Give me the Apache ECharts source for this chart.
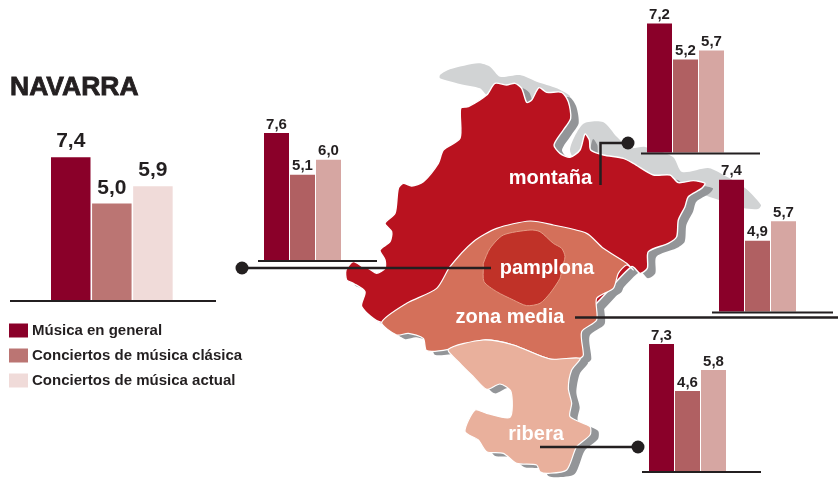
<!DOCTYPE html>
<html><head><meta charset="utf-8">
<style>html,body{margin:0;padding:0;background:#fff}#c{width:838px;height:479px}</style>
<script src="https://cdn.jsdelivr.net/npm/echarts@6/dist/echarts.min.js"></script>
</head><body><div id="c"></div>
<script>
// ---- data ----
const seriesNames = ['Música en general','Conciertos de música clásica','Conciertos de música actual'];
const navarra  = [7.4,5.0,5.9];
const montana  = [7.2,5.2,5.7];
const pamplona = [7.6,5.1,6.0];
const zonaMedia= [7.4,4.9,5.7];
const ribera   = [7.3,4.6,5.8];
const regionLabels = ['montaña','pamplona','zona media','ribera'];

// ---- layout ----
const INK='#231f20';
const strong=['#8a0029','#bb7573','#f0dbd9'];
const soft=['#8a0029','#b06062','#d6a6a2'];
const panels=[
 {name:'NAVARRA',values:navarra,left:51,bar:39.5,gap:'4%',base:300,unit:19.3,min:0,colors:strong,font:21,dist:5,line:[10,216]},
 {name:'montaña',values:montana,left:647,bar:25,gap:'4%',base:152.5,unit:17.9,min:0,colors:soft,font:15,dist:1,line:[641,760]},
 {name:'pamplona',values:pamplona,left:264,bar:25,gap:'4%',base:260,unit:16.7,min:0,colors:soft,font:15,dist:1,line:[258,377]},
 {name:'zona media',values:zonaMedia,left:719,bar:25,gap:'4%',base:311.5,unit:24.4,min:2,colors:soft,font:15,dist:1,line:[712,833]},
 {name:'ribera',values:ribera,left:649,bar:25,gap:'4%',base:471,unit:17.4,min:0,colors:soft,font:15,dist:1,line:[642,761]}
];
const MAX=8;
const A=p=>p.map(([x,y])=>[340+x/3,60+y/3]);
const B=p=>p.map(([x,y])=>[340+x/3,260+y/3]);

// ---- map artwork (illustration, not data) ----
const greyTop=A([[300,45],[330,28],[415,10],[450,20],[480,50],[540,45],[590,65],[650,85],[690,110],[600,130],[480,120],[440,105],[420,85],[360,72],[300,55]]);
const greyMid=[[570,150],[583,124],[603,122],[617,137],[630,148],[645,147],[673,157],[682,172],[708,168],[720,173],[745,188],[761,205],[758,209],[743,208],[713,198],[690,190],[620,175],[580,165]];
const redOutline=A([[465,70],[500,75],[525,70],[545,85],[560,127],[575,120],[597,83],[620,97],[665,97],[685,125],[692,175],[670,210],[642,255],[660,280],[690,292],[720,270],[735,222],[748,240],[752,270],[790,285],[850,295],[880,310],[940,345],[990,345],[1015,368],[1060,362],[1095,370],[1085,385],[1045,410],[1035,440],[1015,480],[1010,530],[985,550],[925,575],[922,625]])
 .concat(B([[900,40],[875,20],[700,180],[125,187],[65,140],[75,95],[40,70],[20,60],[18,30],[40,5]]))
 .concat(A([[75,625]]),B([[85,25],[110,40],[135,25],[135,0]]))
 .concat(A([[120,570],[150,545],[155,515],[135,490],[165,460],[175,385],[190,370],[215,378],[250,365],[295,310],[310,270],[360,235],[362,145],[385,140],[440,105]]));
const zonaOutline=A([[330,620],[400,545],[470,505],[570,483],[640,495],[740,520],[790,565],[860,610],[880,630]])
 .concat(B([[860,15],[835,40],[820,85],[770,115],[770,180],[725,215],[730,285],[720,295],[630,297],[520,255],[430,240],[325,268],[260,272],[250,235],[205,220],[170,225],[125,187],[200,130],[290,85]]));
const pampOutline=A([[430,610],[450,565],[490,525],[570,510],[600,515],[640,550],[665,565],[675,590],[665,630]])
 .concat(B([[660,55],[630,100],[600,130],[560,137],[520,120],[470,95],[432,65],[430,20]]));
const riberaOutline=B([[325,268],[430,240],[520,255],[630,297],[720,295],[695,330],[685,385],[695,430],[690,470],[750,500],[750,525],[710,560],[680,630],[625,640],[600,635],[590,615],[530,610],[490,580],[440,575],[415,540],[375,515],[405,450],[440,460],[510,472],[513,395],[480,372],[440,388],[400,350],[360,310]]);
const off=(pts,dx,dy)=>pts.map(([x,y])=>[x+dx,y+dy]);
const poly=(pts,fill,stroke,w)=>({type:'polygon',z:0,silent:true,shape:{points:pts,smooth:0.25},style:{fill,stroke:stroke||null,lineWidth:w||0}});
const line=(pts,w,col,z)=>({type:'polyline',z:z,silent:true,shape:{points:pts},style:{stroke:col,lineWidth:w,fill:null,lineJoin:'miter',lineCap:'butt'}});
const dot=(x,y)=>({type:'circle',z:5,silent:true,shape:{cx:x,cy:y,r:6.5},style:{fill:INK}});
const text=(t,x,y)=>({type:'text',z:6,silent:true,style:{text:t,x,y,fill:'#fff',align:'center',verticalAlign:'middle',font:'bold 20px "Liberation Sans", Arial, sans-serif'}});

const graphics=[
 poly(greyTop,'#d1d3d4'),poly(greyMid,'#d1d3d4'),
 poly(off(redOutline,8,5),'#939598'),poly(off(zonaOutline,8,4),'#939598'),poly(off(riberaOutline,8,4),'#939598'),
 poly(redOutline,'#b9121f','#fff',1.4),
 poly(zonaOutline,'#d4705a','#fff',1.2),
 poly(riberaOutline,'#e9b09c','#fff',1.2),
 poly(pampOutline,'#c03228','#e59a84',1),
 ...panels.map(p=>line([[p.line[0],p.base+1],[p.line[1],p.base+1]],2,INK,4)),
 line([[628,143],[600.5,143],[600.5,185]],2.5,INK,5),dot(628,143),
 line([[243,268],[491,268]],2.5,INK,5),dot(242,268),
 line([[575,317.5],[838,317.5]],2.5,INK,5),
 line([[540,447],[638,447]],2.5,INK,5),dot(638,447),
 text(regionLabels[0],550.5,178),text(regionLabels[1],547,268),text(regionLabels[2],510,317),text(regionLabels[3],536,434)
];

// ---- chart ----
const fmt=v=>v.toFixed(1).replace('.',',');
const grids=[],xs=[],ys=[],series=[];
panels.forEach((p,i)=>{
 const h=(MAX-p.min)*p.unit;
 const gapPx=p.bar*parseFloat(p.gap)/100;
 grids.push({left:p.left,top:p.base-h,width:p.bar*3+gapPx*2,height:h});
 xs.push({type:'category',gridIndex:i,data:[p.name],show:false});
 ys.push({type:'value',gridIndex:i,min:p.min,max:MAX,show:false,splitLine:{show:false}});
 seriesNames.forEach((n,k)=>series.push({
   type:'bar',name:n,xAxisIndex:i,yAxisIndex:i,z:3,
   data:[p.values[k]],barWidth:p.bar,barGap:p.gap,
   itemStyle:{color:p.colors[k]},
   label:{show:true,position:'top',distance:p.dist,formatter:o=>fmt(o.value),color:INK,
     fontFamily:'"Liberation Sans",Arial',fontWeight:'bold',fontSize:p.font}
 }));
});
const chart=echarts.init(document.getElementById('c'),null,{renderer:'canvas'});
chart.setOption({
 animation:false,backgroundColor:'#fff',
 title:{text:'NAVARRA',left:10,top:74,padding:0,textStyle:{fontFamily:'"Liberation Sans",Arial',fontWeight:'bold',fontSize:26.5,color:INK,textBorderColor:INK,textBorderWidth:0.8}},
 legend:{orient:'vertical',left:9,top:323,padding:0,itemWidth:19,itemHeight:14,itemGap:10,selectedMode:false,icon:'rect',
   data:seriesNames,textStyle:{fontFamily:'"Liberation Sans",Arial',fontWeight:'bold',fontSize:15,lineHeight:14,color:INK,padding:[0,0,0,-1]}},
 grid:grids,xAxis:xs,yAxis:ys,series,graphic:graphics
});
</script></body></html>
